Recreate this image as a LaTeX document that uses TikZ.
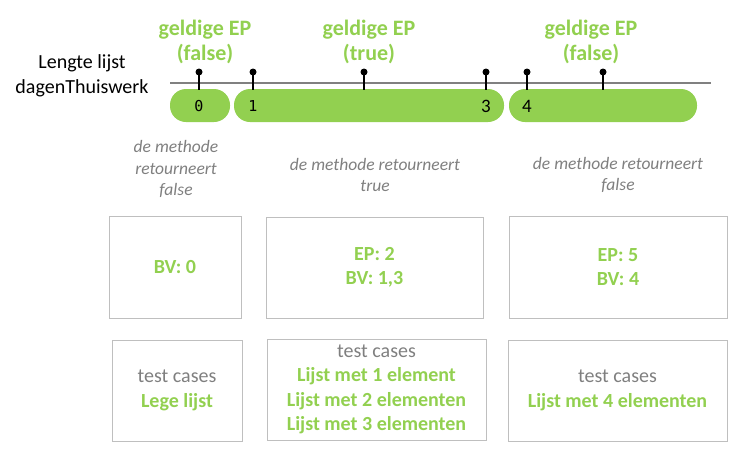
\documentclass[tikz,border=0pt]{standalone}
\usepackage{fontspec}
\setmainfont{Carlito}
\newfontfamily\codefont{DejaVu Sans Mono}
\definecolor{pgreen}{HTML}{92D050}
\definecolor{tgray}{HTML}{7F7F7F}
\definecolor{lgray}{HTML}{BFBFBF}
\definecolor{axgray}{HTML}{808080}
\tikzset{
  pill/.style={fill=pgreen, rounded corners=16pt, minimum height=33pt, inner sep=0pt},
  pindot/.style={circle, fill=black, inner sep=0pt, minimum size=7pt},
  pinline/.style={line width=1.8pt, black},
  eplabel/.style={text=pgreen, font=\fontsize{22}{24.5}\selectfont\bfseries, align=center, inner sep=0pt},
  numlbl/.style={font=\codefont\fontsize{15}{18}\selectfont, inner sep=0pt},
  numlblb/.style={font=\fontsize{19}{22}\selectfont, inner sep=0pt},
  methode/.style={text=tgray, font=\fontsize{17.5}{21.5}\selectfont\itshape, align=center, inner sep=0pt},
  infobox/.style={draw=lgray, line width=1pt, align=center, inner sep=0pt, text=pgreen,
    font=\fontsize{20}{24.5}\selectfont\bfseries},
}
\begin{document}
\begin{tikzpicture}[x=1pt,y=-1pt]
\useasboundingbox (0,0) rectangle (747,453);
% axis
\coordinate (axL) at (170,83);
\coordinate (axR) at (711,83);
\draw[axgray, line width=2.5pt] (axL) -- (axR);
% pills
\node[pill, minimum width=60pt] (p1) at (200,105.5) {};
\node[pill, minimum width=270pt] (p2) at (369,105.5) {};
\node[pill, minimum width=188pt] (p3) at (603,105.5) {};
% pins
\foreach \n/\x in {a/199,b/253,c/364,d/486,e/527,f/603}{
  \node[pindot] (dot\n) at (\x,72) {};
  \coordinate (base\n) at (\x,89.5);
  \draw[pinline] (dot\n.center) -- (base\n);
}
% numbers
\node[numlbl] (n0) at (199,106) {0};
\node[numlbl] (n1) at (253,106) {1};
\node[numlblb] (n3) at (486,106) {3};
\node[numlblb] (n4) at (527,106) {4};
% left label
\node[font=\fontsize{20}{24.5}\selectfont, align=center, inner sep=0pt] (lengte) at (82,76) {Lengte lijst\\dagenThuiswerk};
% top labels
\node[eplabel] (ep1) at (205,42) {geldige EP\\(false)};
\node[eplabel] (ep2) at (369,42) {geldige EP\\(true)};
\node[eplabel] (ep3) at (591,42) {geldige EP\\(false)};
% methode texts
\node[methode] (m1) at (176,169) {de methode\\retourneert\\false};
\node[methode] (m2) at (375,175) {de methode retourneert\\true};
\node[methode] (m3) at (618,175) {de methode retourneert\\false};
% row 1 boxes
\node[infobox, minimum width=132pt, minimum height=102pt] (b1) at (175,267) {BV: 0};
\node[infobox, minimum width=217pt, minimum height=101pt] (b2) at (374.5,267.5) {EP: 2\\BV: 1,3};
\node[infobox, minimum width=218pt, minimum height=102pt] (b3) at (618,267) {EP: 5\\BV: 4};
% row 2 boxes
\node[infobox, minimum width=130pt, minimum height=101pt] (c1) at (177,390.5) {\textcolor{tgray}{\mdseries test cases}\\Lege lijst};
\node[infobox, minimum width=219pt, minimum height=101pt] (c2) at (376.5,389.5) {\textcolor{tgray}{\mdseries test cases}\\Lijst met 1 element\\Lijst met 2 elementen\\Lijst met 3 elementen};
\node[infobox, minimum width=219pt, minimum height=101pt] (c3) at (617.5,390.5) {\textcolor{tgray}{\mdseries test cases}\\Lijst met 4 elementen};
\end{tikzpicture}
\end{document}
